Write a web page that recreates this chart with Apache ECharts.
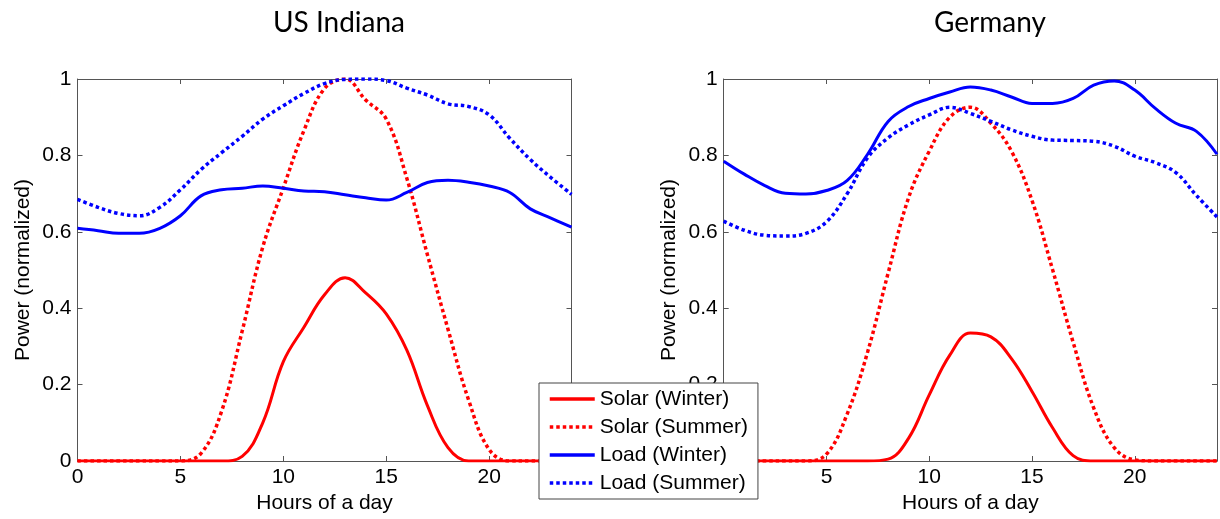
<!DOCTYPE html>
<html>
<head>
<meta charset="utf-8">
<script src="https://cdn.jsdelivr.net/npm/echarts@6/dist/echarts.min.js"></script>
<style>
  html, body { margin: 0; padding: 0; background: #fff; }
  #chart { width: 1220px; height: 519px; }
</style>
</head>
<body>
<div id="chart"></div>
<script>
// hours of the day (x values)
var hours = [0,1,2,3,4,5,6,7,8,9,10,11,12,13,14,15,16,17,18,19,20,21,22,23,24];

// US Indiana
var inSolarWinter = [0,0,0,0,0,0,0,0,0.012,0.1,0.26,0.35,0.435,0.48,0.44,0.385,0.29,0.145,0.035,0,0,0,0,0,0];
var inSolarSummer = [0,0,0,0,0,0,0.02,0.13,0.34,0.56,0.715,0.865,0.975,1.0,0.945,0.895,0.74,0.54,0.345,0.16,0.03,0,0,0,0];
var inLoadWinter  = [0.609,0.603,0.596,0.596,0.609,0.642,0.694,0.71,0.714,0.72,0.714,0.707,0.705,0.697,0.689,0.683,0.703,0.729,0.735,0.73,0.72,0.703,0.66,0.636,0.612];
var inLoadSummer  = [0.685,0.664,0.648,0.642,0.664,0.71,0.763,0.807,0.85,0.895,0.93,0.962,0.988,0.999,1.0,0.996,0.976,0.958,0.935,0.928,0.906,0.845,0.789,0.742,0.698];

// Germany
var deSolarWinter = [0,0,0,0,0,0,0,0,0.005,0.06,0.173,0.277,0.335,0.325,0.268,0.182,0.087,0.014,0,0,0,0,0,0,0];
var deSolarSummer = [0,0,0,0,0,0.018,0.122,0.285,0.492,0.69,0.811,0.9,0.926,0.884,0.811,0.682,0.501,0.311,0.139,0.035,0.003,0,0,0,0];
var deLoadWinter  = [0.785,0.751,0.721,0.701,0.699,0.708,0.734,0.803,0.889,0.928,0.949,0.966,0.979,0.971,0.953,0.936,0.936,0.949,0.984,0.995,0.971,0.923,0.884,0.863,0.803];
var deLoadSummer  = [0.628,0.604,0.591,0.589,0.596,0.626,0.699,0.794,0.846,0.88,0.906,0.926,0.91,0.889,0.867,0.85,0.84,0.839,0.837,0.824,0.798,0.781,0.755,0.695,0.639];

var panelTitles = ['US Indiana', 'Germany'];
var seriesNames = ['Solar (Winter)', 'Solar (Summer)', 'Load (Winter)', 'Load (Summer)'];
var xTicks = [0, 5, 10, 15, 20];

var FONT = '"Liberation Sans", Arial, sans-serif';
var AXIS_COLOR = '#555';

var chart = echarts.init(document.getElementById('chart'), null, { renderer: 'canvas' });

function pairs(vals) {
  return hours.map(function (h, i) { return [h, vals[i]]; });
}

var grids = [
  { left: 77.5, top: 79, width: 494, height: 384.3 },
  { left: 723.7, top: 79, width: 493.6, height: 384.3 }
];

var xAxes = [], yAxes = [];
grids.forEach(function (g, i) {
  // bottom x axis with labels
  xAxes.push({
    gridIndex: i, type: 'value', min: 0, max: 24, interval: 5, position: 'bottom',
    name: 'Hours of a day', nameLocation: 'middle', nameGap: 32,
    nameTextStyle: { fontFamily: FONT, fontSize: 21, color: '#000' },
    axisLine: { onZero: false, lineStyle: { color: AXIS_COLOR, width: 1 } },
    axisTick: { inside: true, length: 5, lineStyle: { color: AXIS_COLOR } },
    axisLabel: {
      fontFamily: FONT, fontSize: 21, color: '#000', margin: 6,
      formatter: function (v) { return xTicks.indexOf(v) >= 0 ? String(v) : ''; }
    },
    splitLine: { show: false }
  });
  // top x axis, ticks only
  xAxes.push({
    gridIndex: i, type: 'value', min: 0, max: 24, interval: 5, position: 'top',
    axisLine: { onZero: false, lineStyle: { color: AXIS_COLOR, width: 1 } },
    axisTick: { inside: true, length: 5, lineStyle: { color: AXIS_COLOR } },
    axisLabel: { show: false },
    splitLine: { show: false }
  });
  // left y axis with labels
  yAxes.push({
    gridIndex: i, type: 'value', min: 0, max: 1, interval: 0.2, position: 'left',
    name: 'Power (normalized)', nameLocation: 'middle', nameGap: 44,
    nameTextStyle: { fontFamily: FONT, fontSize: 21, color: '#000' },
    axisLine: { show: true, onZero: false, lineStyle: { color: AXIS_COLOR, width: 1 } },
    axisTick: { show: true, inside: true, length: 5, lineStyle: { color: AXIS_COLOR } },
    axisLabel: { fontFamily: FONT, fontSize: 21, color: '#000', margin: 6 },
    splitLine: { show: false }
  });
  // right y axis, ticks only
  yAxes.push({
    gridIndex: i, type: 'value', min: 0, max: 1, interval: 0.2, position: 'right',
    axisLine: { show: true, onZero: false, lineStyle: { color: AXIS_COLOR, width: 1 } },
    axisTick: { show: true, inside: true, length: 5, lineStyle: { color: AXIS_COLOR } },
    axisLabel: { show: false },
    splitLine: { show: false }
  });
});

function line(name, vals, panel, color, dotted) {
  return {
    name: name, type: 'line',
    xAxisIndex: panel * 2, yAxisIndex: panel * 2,
    data: pairs(vals),
    smooth: 0.4,
    showSymbol: false, symbol: 'none',
    lineStyle: dotted
      ? { color: color, width: 3.5, type: [3.5, 3], cap: 'butt' }
      : { color: color, width: 3 },
    itemStyle: { color: color },
    emphasis: { disabled: true },
    animation: false
  };
}

var panelData = [
  [inSolarWinter, inSolarSummer, inLoadWinter, inLoadSummer],
  [deSolarWinter, deSolarSummer, deLoadWinter, deLoadSummer]
];
var styles = [['#ff0000', false], ['#ff0000', true], ['#0000ff', false], ['#0000ff', true]];

var series = [];
panelData.forEach(function (arrs, p) {
  arrs.forEach(function (vals, k) {
    series.push(line(seriesNames[k], vals, p, styles[k][0], styles[k][1]));
  });
});

chart.setOption({
  backgroundColor: '#fff',
  animation: false,
  title: [
    { text: panelTitles[0], left: 334, top: 4, textAlign: 'center',
      textStyle: { fontFamily: 'Lato, "Open Sans", sans-serif', fontSize: 28, fontWeight: 'normal', color: '#000' } },
    { text: panelTitles[1], left: 985, top: 4, textAlign: 'center',
      textStyle: { fontFamily: 'Lato, "Open Sans", sans-serif', fontSize: 28, fontWeight: 'normal', color: '#000' } }
  ],
  grid: grids,
  xAxis: xAxes,
  yAxis: yAxes,
  legend: {
    data: seriesNames,
    orient: 'vertical',
    left: 539, top: 383,
    backgroundColor: '#fff',
    borderColor: '#444', borderWidth: 1, borderRadius: 0,
    padding: [5, 10, 5, 9],
    itemWidth: 45, itemHeight: 14, itemGap: 6,
    selectedMode: false,
    itemStyle: { opacity: 0 },
    lineStyle: { width: 3.5 },
    textStyle: { fontFamily: FONT, fontSize: 21, color: '#000', lineHeight: 22 }
  },
  series: series
});
</script>
</body>
</html>
